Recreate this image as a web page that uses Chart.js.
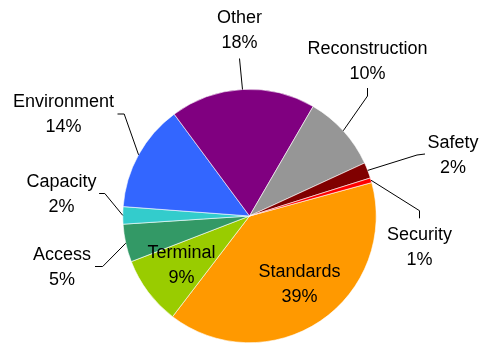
<!DOCTYPE html>
<html>
<head>
<meta charset="utf-8">
<script src="https://cdn.jsdelivr.net/npm/chart.js@4.4.1/dist/chart.umd.min.js"></script>
<style>
   html, body { margin: 0; padding: 0; background: #fff; }
   #wrap { width: 479px; height: 343px; }
</style>
</head>
<body>
<div id="wrap"><canvas id="pie"></canvas></div>
<script>
// data, clockwise from the right side of the pie
const categories = ['Standards', 'Terminal', 'Access', 'Capacity', 'Environment', 'Other', 'Reconstruction', 'Safety', 'Security'];
const shares = [39.4, 8.7, 4.8, 2.2, 13.6, 18.4, 9.7, 2.0, 0.6];
const colors = ['#ff9900', '#99cc00', '#339966', '#33cccc', '#3366ff', '#800080', '#969696', '#800000', '#ff0000'];

// label placement: text centre relative to pie centre, leader end + elbow relative to text centre
const labelLayout = {
   'Standards':      { x: 50, y: 67 },
   'Terminal':       { x: -68, y: 48 },
   'Access':         { x: -187.5, y: 50, end: [33, 0.5], elbow: [40.7, 0.5] },
   'Capacity':       { x: -188, y: -23, end: [37.6, 0.5], elbow: [43.3, 0.5] },
   'Environment':    { x: -186, y: -103.3, end: [54, 1.3], elbow: [60.7, 1.3] },
   'Other':          { x: -10, y: -187, end: [0, 29.5], elbow: [0, 29.5] },
   'Reconstruction': { x: 118, y: -156, end: [0, 28], elbow: [0, 36] },
   'Safety':         { x: 203.5, y: -62.3, end: [-28, 0.3], elbow: [-36, 1.3] },
   'Security':       { x: 170, y: 29.7, end: [0, -27.4], elbow: [0, -35] }
};

const fontSize = 18;
const lineGap = 25;

const pieLabels = {
   id: 'pieLabels',
   afterDatasetsDraw(chart) {
      const ctx = chart.ctx;
      const arcs = chart.getDatasetMeta(0).data;
      ctx.save();
      ctx.font = fontSize + 'px "Liberation Sans", Arial, sans-serif';
      ctx.fillStyle = '#000';
      ctx.strokeStyle = '#000';
      ctx.lineWidth = 1;
      ctx.textAlign = 'center';
      ctx.textBaseline = 'alphabetic';
      arcs.forEach(function (arc, i) {
         const p = arc.getProps(['x', 'y', 'startAngle', 'endAngle', 'outerRadius'], true);
         const lay = labelLayout[categories[i]];
         const cx = p.x + lay.x;
         const cy = p.y + lay.y;
         if (lay.end) {
            const mid = (p.startAngle + p.endAngle) / 2;
            ctx.beginPath();
            ctx.moveTo(p.x + p.outerRadius * Math.cos(mid), p.y + p.outerRadius * Math.sin(mid));
            ctx.lineTo(cx + lay.elbow[0], cy + lay.elbow[1]);
            ctx.lineTo(cx + lay.end[0], cy + lay.end[1]);
            ctx.stroke();
         }
         const pct = Math.round(shares[i]) + '%';
         const capMid = fontSize * 0.36;
         ctx.fillText(categories[i], cx, cy - lineGap / 2 + capMid);
         ctx.fillText(pct, cx, cy + lineGap / 2 + capMid);
      });
      ctx.restore();
   }
};

const pie = document.getElementById('pie');
new Chart(pie, {
   type: 'pie',
   data: {
      labels: categories,
      datasets: [{
         data: shares,
         backgroundColor: colors,
         borderColor: '#ffffff',
         borderWidth: 0.6
      }]
   },
   options: {
      responsive: true,
      maintainAspectRatio: false,
      animation: false,
      rotation: 74.7,
      layout: {
         padding: { top: 89, bottom: 0, left: 122, right: 102 }
      },
      plugins: {
         legend: { display: false },
         tooltip: { enabled: false }
      }
   },
   plugins: [pieLabels]
});
</script>
</body>
</html>
